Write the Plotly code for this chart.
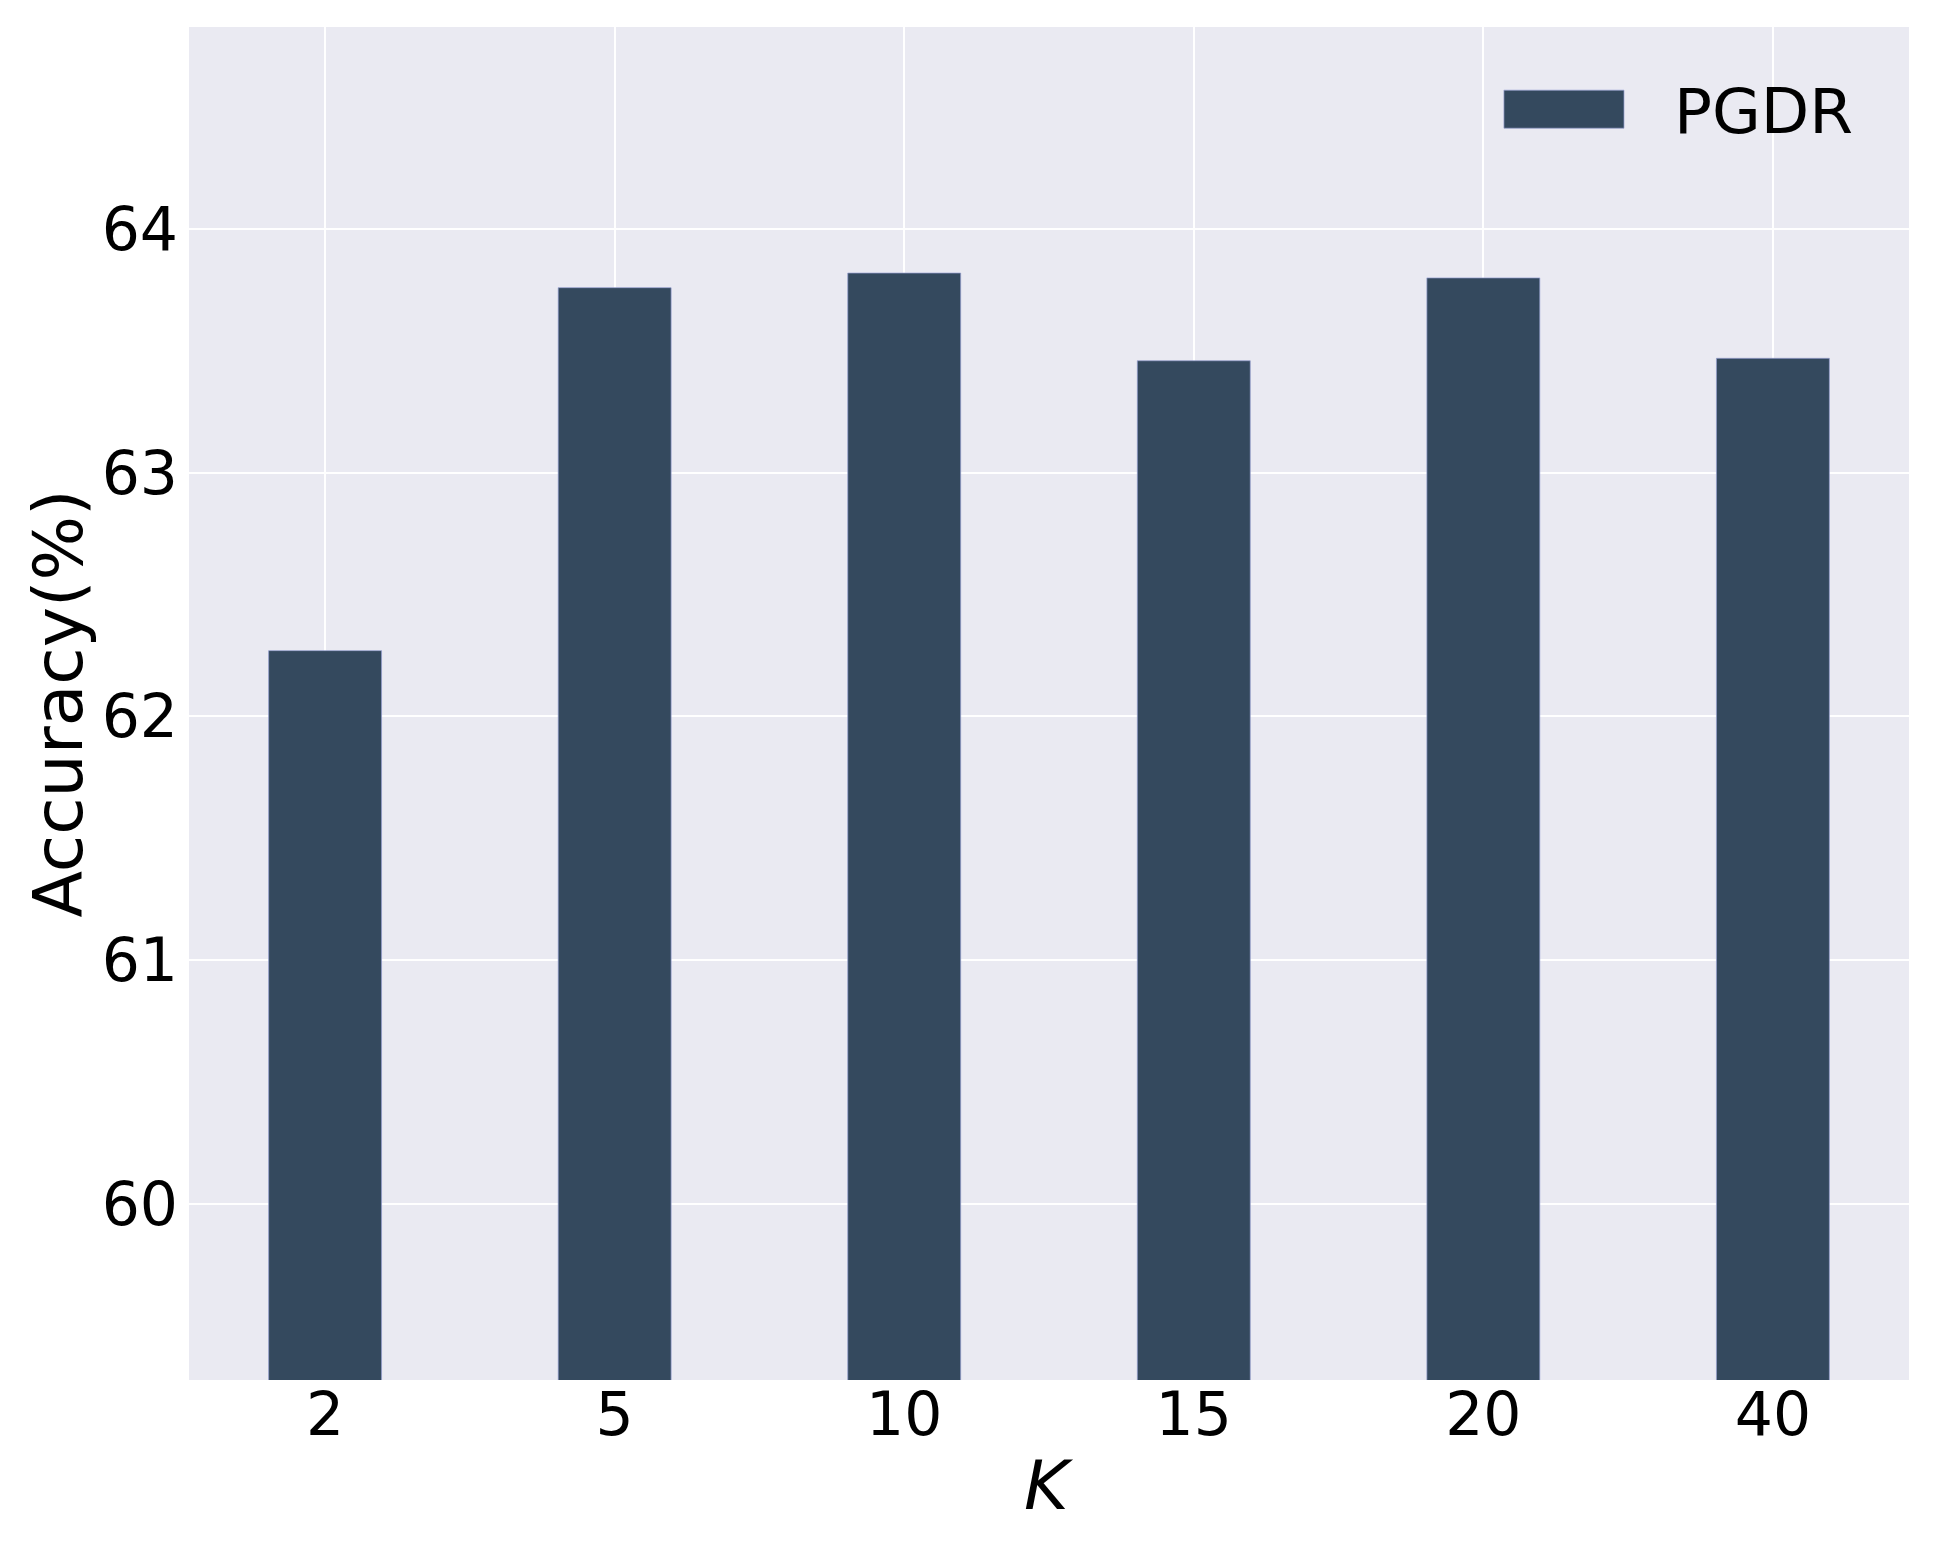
import plotly.graph_objects as go

# K values and accuracy of PGDR
k_labels = ['2', '5', '10', '15', '20', '40']
accuracy = [62.27, 63.76, 63.82, 63.46, 63.80, 63.47]
series_name = 'PGDR'
x_title = '<i>K</i>'
y_title = 'Accuracy(%)'

bar_color = '#34495e'
font_family = 'DejaVu Sans'

fig = go.Figure()
fig.add_trace(
    go.Bar(
        x=k_labels,
        y=accuracy,
        name=series_name,
        width=0.39,
        marker=dict(color=bar_color, line=dict(color='rgba(150,160,210,0.7)', width=1)),
        showlegend=False))

fig.update_layout(
    width=1937,
    height=1550,
    margin=dict(l=181, r=36, t=19, b=178),
    paper_bgcolor='white',
    plot_bgcolor='#eaeaf2',
    font=dict(family=font_family, color='black', size=60),
    showlegend=False)

fig.update_xaxes(
    type='category',
    range=[-0.47, 5.47],
    showgrid=True,
    gridcolor='white',
    gridwidth=1.5,
    zeroline=False,
    showline=False,
    ticks='',
    tickfont=dict(size=60),
    ticklabelstandoff=-6,
    automargin=False)

fig.update_yaxes(
    range=[59.276, 64.83],
    tickvals=[60, 61, 62, 63, 64],
    showgrid=True,
    gridcolor='white',
    gridwidth=1.5,
    zeroline=False,
    showline=False,
    ticks='',
    tickfont=dict(size=60),
    ticklabelstandoff=10,
    automargin=False)

# axis titles as annotations for exact placement
fig.add_annotation(
    text=x_title, xref='paper', yref='paper', x=0.5, y=0,
    xanchor='center', yanchor='middle', yshift=-105,
    showarrow=False, font=dict(size=68, family=font_family, color='black'))
fig.add_annotation(
    text=y_title, xref='paper', yref='paper', x=0, y=0.5,
    xanchor='center', yanchor='middle', xshift=-131, textangle=-90,
    showarrow=False, font=dict(size=68, family=font_family, color='black'))

# legend drawn by hand so the swatch matches the wide bar patch
fig.add_shape(
    type='rect', xref='paper', yref='paper',
    x0=0.7645, x1=0.8343, y0=0.9252, y1=0.9533,
    fillcolor=bar_color, line=dict(color='rgba(150,160,210,0.7)', width=1))
fig.add_annotation(
    text=series_name, xref='paper', yref='paper',
    x=0.862, y=0.9378, xanchor='left', yanchor='middle',
    showarrow=False, font=dict(size=63, family=font_family, color='black'))

fig.write_html('out.html')
